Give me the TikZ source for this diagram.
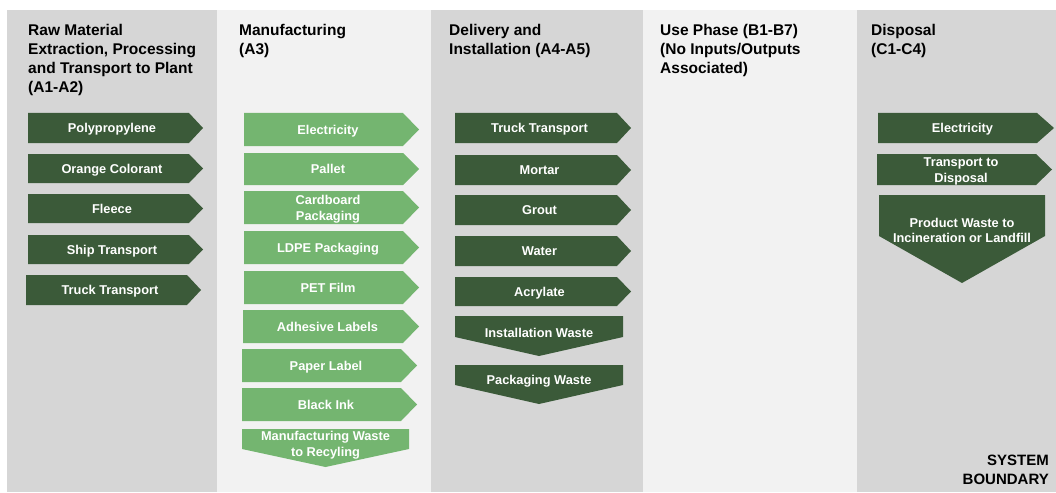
\documentclass[tikz,border=0pt]{standalone}
\usepackage{fontspec}
\setmainfont{Liberation Sans}
\definecolor{bgdark}{HTML}{D6D6D6}
\definecolor{bglight}{HTML}{F2F2F2}
\definecolor{dkgreen}{HTML}{3B5A39}
\definecolor{ltgreen}{HTML}{74B570}
\tikzset{
  title/.style={anchor=north west,align=left,inner sep=0pt,font=\bfseries\fontsize{15.5}{19}\selectfont,text=black},
  lbl/.style={inner sep=0pt,align=center,font=\bfseries\fontsize{12.8}{15.5}\selectfont,text=white},
}
% right arrow, one-line label: name, x1, xbody, xtip, y1, y2, colour, text
\newcommand\RA[8]{%
  \fill[#7] (#2,#5) -- (#3,#5) -- (#4,{(#5+#6)/2}) -- (#3,#6) -- (#2,#6) -- cycle;
  \node[lbl,anchor=base] (#1) at ({(#2+#4)/2-3.5},{(#5+#6)/2+4.6}) {#8};
}
% right arrow, two-line label
\newcommand\RB[8]{%
  \fill[#7] (#2,#5) -- (#3,#5) -- (#4,{(#5+#6)/2}) -- (#3,#6) -- (#2,#6) -- cycle;
  \node[lbl,font=\bfseries\fontsize{12.8}{16}\selectfont] (#1) at ({(#2+#4)/2-3.5},{(#5+#6)/2+2}) {#8};
}
% down arrow: name, x1, x2, ytop, yside, ytip, colour, text, text y
\newcommand\DA[9]{%
  \fill[#7] (#2,#4) -- (#3,#4) -- (#3,#5) -- ({(#2+#3)/2},#6) -- (#2,#5) -- cycle;
  \node[lbl] (#1) at ({(#2+#3)/2},#9) {#8};
}
\begin{document}
\begin{tikzpicture}[x=1pt,y=-1pt]
\useasboundingbox (0,0) rectangle (1056,492);
\fill[white] (0,0) rectangle (1056,492);
% columns
\fill[bgdark] (7,10) rectangle (217,492);
\fill[bglight] (217,10) rectangle (431,492);
\fill[bgdark] (431,10) rectangle (643,492);
\fill[bglight] (643,10) rectangle (857,492);
\fill[bgdark] (857,10) rectangle (1056,492);
% titles
\node[title] (t1) at (28,24.5) {Raw Material\\Extraction, Processing\\and Transport to Plant\\(A1-A2)};
\node[title] (t2) at (239,24.5) {Manufacturing\\(A3)};
\node[title] (t3) at (449,24.5) {Delivery and\\Installation (A4-A5)};
\node[title] (t4) at (660,24.5) {Use Phase (B1-B7)\\(No Inputs/Outputs\\Associated)};
\node[title] (t5) at (871,24.5) {Disposal\\(C1-C4)};
\node[anchor=south east,align=right,inner sep=0pt,font=\bfseries\fontsize{15}{19}\selectfont] (sb) at (1049,485) {SYSTEM\\BOUNDARY};
% column 1
\RA{a1}{28}{189}{203}{113}{143}{dkgreen}{Polypropylene}
\RA{a2}{28}{189}{203}{154}{183}{dkgreen}{Orange Colorant}
\RA{a3}{28}{189}{203}{194}{223}{dkgreen}{Fleece}
\RA{a4}{28}{189}{203}{235}{264}{dkgreen}{Ship Transport}
\RA{a5}{26}{187}{201}{275}{305}{dkgreen}{Truck Transport}
% column 2
\RA{b1}{244}{403}{419}{113}{146}{ltgreen}{Electricity}
\RA{b2}{244}{403}{419}{153}{185}{ltgreen}{Pallet}
\RB{b3}{244}{403}{419}{191}{224}{ltgreen}{Cardboard\\Packaging}
\RA{b4}{244}{403}{419}{231}{264}{ltgreen}{LDPE Packaging}
\RA{b5}{244}{403}{419}{271}{304}{ltgreen}{PET Film}
\RA{b6}{243}{403}{419}{310}{343}{ltgreen}{Adhesive Labels}
\RA{b7}{242}{401}{417}{349}{382}{ltgreen}{Paper Label}
\RA{b8}{242}{401}{417}{388}{421}{ltgreen}{Black Ink}
\DA{b9}{242}{409}{429}{449}{467}{ltgreen}{Manufacturing Waste\\to Recyling}{445}
% column 3
\RA{c1}{455}{617}{631}{113}{143}{dkgreen}{Truck Transport}
\RA{c2}{455}{617}{631}{155}{185}{dkgreen}{Mortar}
\RA{c3}{455}{617}{631}{195}{225}{dkgreen}{Grout}
\RA{c4}{455}{617}{631}{236}{266}{dkgreen}{Water}
\RA{c5}{455}{617}{631}{277}{306}{dkgreen}{Acrylate}
\DA{c6}{455}{623}{316}{337}{356}{dkgreen}{Installation Waste}{332.5}
\DA{c7}{455}{623}{365}{385}{404}{dkgreen}{Packaging Waste}{381.5}
% column 5
\RA{e1}{878}{1037}{1054}{113}{143}{dkgreen}{Electricity}
\RB{e2}{877}{1036}{1052}{154}{185}{dkgreen}{Transport to\\Disposal}
\DA{e3}{879}{1045}{195}{236}{283}{dkgreen}{Product Waste to\\Incineration or Landfill}{230.5}
\end{tikzpicture}
\end{document}
